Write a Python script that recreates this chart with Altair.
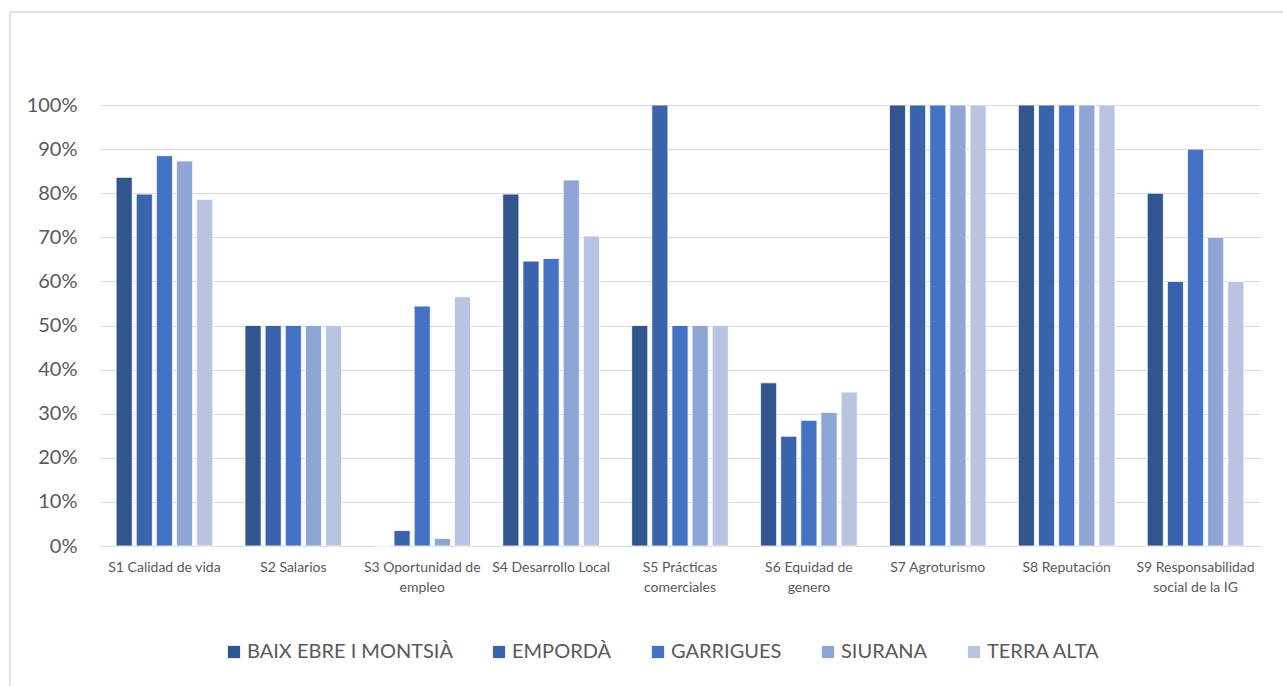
import altair as alt
import pandas as pd

# Social-sustainability indicators (share of compliance) per protected origin area
categories = [
    "S1 Calidad de vida",
    "S2 Salarios",
    "S3 Oportunidad de empleo",
    "S4 Desarrollo Local",
    "S5 Prácticas comerciales",
    "S6 Equidad de genero",
    "S7 Agroturismo",
    "S8 Reputación",
    "S9 Responsabilidad social de la IG",
]
# Axis labels broken over two lines where the category name is long
label_lines = {
    "S3 Oportunidad de empleo": ["S3 Oportunidad de", "empleo"],
    "S5 Prácticas comerciales": ["S5 Prácticas", "comerciales"],
    "S6 Equidad de genero": ["S6 Equidad de", "genero"],
    "S9 Responsabilidad social de la IG": ["S9 Responsabilidad", "social de la IG"],
}

regions = ["BAIX EBRE I MONTSIÀ", "EMPORDÀ", "GARRIGUES", "SIURANA", "TERRA ALTA"]
colors = ["#31558f", "#3a63ab", "#4472c4", "#8fa5d5", "#b9c4e3"]

baix_ebre = [0.836, 0.50, 0.000, 0.798, 0.50, 0.370, 1.00, 1.00, 0.80]
emporda = [0.798, 0.50, 0.035, 0.646, 1.00, 0.249, 1.00, 1.00, 0.60]
garrigues = [0.885, 0.50, 0.544, 0.652, 0.50, 0.285, 1.00, 1.00, 0.90]
siurana = [0.873, 0.50, 0.017, 0.830, 0.50, 0.303, 1.00, 1.00, 0.70]
terra_alta = [0.786, 0.50, 0.565, 0.703, 0.50, 0.349, 1.00, 1.00, 0.60]

series = [baix_ebre, emporda, garrigues, siurana, terra_alta]
rows = []
for region, values in zip(regions, series):
    for cat, v in zip(categories, values):
        rows.append({"indicador": cat, "zona": region, "valor": v})
df = pd.DataFrame(rows)

FONT = "Lato"
TEXT = "#595959"
GRID = "#d9d9d9"

# Vega expression choosing the (possibly two-line) label for each category
label_expr = "".join(
    f"datum.value == '{k}' ? {v!r} : " for k, v in label_lines.items()
) + "datum.value"

bars = alt.Chart(df).mark_bar(stroke="white", strokeWidth=0.8).encode(
    x=alt.X(
        "indicador:N",
        sort=categories,
        scale=alt.Scale(paddingInner=0.25, paddingOuter=0.125),
        axis=alt.Axis(
            title=None,
            labelAngle=0,
            labelExpr=label_expr,
            labelFontSize=14,
            labelLineHeight=20,
            labelPadding=14,
            labelColor=TEXT,
            labelFont=FONT,
            labelLimit=0,
            ticks=False,
            domain=True,
            domainColor=GRID,
            domainWidth=1,
            grid=False,
        ),
    ),
    xOffset=alt.XOffset(
        "zona:N", sort=regions, scale=alt.Scale(paddingInner=0.2, paddingOuter=0)
    ),
    y=alt.Y(
        "valor:Q",
        scale=alt.Scale(domain=[0, 1], nice=False),
        axis=alt.Axis(
            title=None,
            format=".0%",
            values=[i / 10 for i in range(11)],
            labelFontSize=20,
            labelColor=TEXT,
            labelFont=FONT,
            labelPadding=23,
            ticks=False,
            domain=False,
            grid=True,
            gridColor=GRID,
            gridWidth=1,
        ),
    ),
    color=alt.Color(
        "zona:N",
        sort=regions,
        scale=alt.Scale(domain=regions, range=colors),
        legend=alt.Legend(
            title=None,
            orient="none",
            direction="horizontal",
            legendX=124,
            legendY=537,
            symbolType="square",
            symbolSize=150,
            symbolStrokeWidth=0,
            labelFontSize=20,
            labelColor=TEXT,
            labelFont=FONT,
            labelLimit=0,
            columnPadding=36,
            labelOffset=3,
        ),
    ),
)

# Light frame around the chart area (left and top edges)
frame_df = pd.DataFrame({"k": [0]})
frame_left = alt.Chart(frame_df).mark_rule(color=GRID, strokeWidth=1.5).encode(
    x=alt.value(-90), y=alt.value(-93), y2=alt.value(600)
)
frame_top = alt.Chart(frame_df).mark_rule(color=GRID, strokeWidth=1.5).encode(
    y=alt.value(-93), x=alt.value(-90), x2=alt.value(1200)
)

chart = alt.layer(frame_left, frame_top, bars).properties(
    width=1160,
    height=441,
    autosize=alt.AutoSizeParams(type="none"),
    padding={"left": 100, "top": 105, "right": 23, "bottom": 140},
    background="white",
).configure_view(stroke=None)

chart.save("out.html", embed_options={"renderer": "svg", "actions": False})
